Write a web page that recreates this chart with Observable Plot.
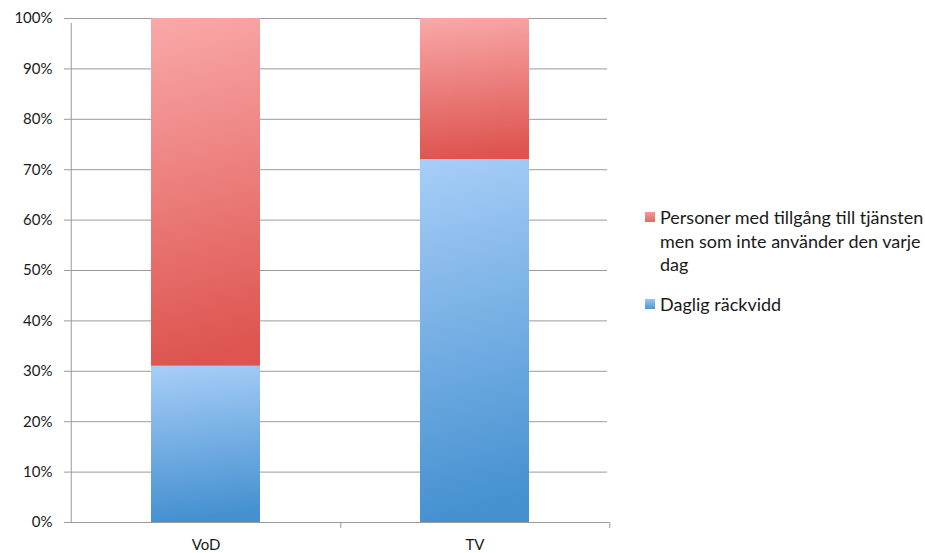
<!DOCTYPE html>
<html><head><meta charset="utf-8">
<script src="https://cdn.jsdelivr.net/npm/d3@7"></script>
<script src="https://cdn.jsdelivr.net/npm/@observablehq/plot@0.6"></script>
<style>
body{margin:0;background:#fff;font-family:Lato,"Open Sans",sans-serif;}
#wrap{position:relative;width:925px;height:553px;overflow:hidden;}
#legend{position:absolute;left:645px;top:206px;font-size:18px;color:#1a1a1a;line-height:23.5px;}
.item{position:relative;padding-left:15px;width:290px;white-space:nowrap;}
.sw{position:absolute;left:0;top:6px;width:10px;height:10px;}
</style></head>
<body><div id="wrap"><div id="chart"></div>
<div id="legend"></div></div>
<script>
const categories = ["VoD", "TV"];
const seriesNames = ["Daglig räckvidd", "Personer med tillgång till tjänsten men som inte använder den varje dag"];
const dailyReach = [0.31, 0.72];
const accessNotDaily = [0.69, 0.28];
const yTicks = [0, 0.1, 0.2, 0.3, 0.4, 0.5, 0.6, 0.7, 0.8, 0.9, 1.0];
const legendLines = ["Personer med tillgång till tjänsten", "men som inte använder den varje", "dag"];

const rows = [];
categories.forEach((c, i) => {
  rows.push({cat: c, series: seriesNames[0], value: dailyReach[i], fill: "url(#gBlue)"});
  rows.push({cat: c, series: seriesNames[1], value: accessNotDaily[i], fill: "url(#gRed)"});
});

const marginLeft = 70, marginRight = 316, width = 925;
const step = (width - marginLeft - marginRight) / categories.length;

const defs = () => {
  const d = d3.create("svg:defs");
  const mk = (id, top, bottom) => {
    const g = d.append("linearGradient").attr("id", id).attr("x1", 0).attr("y1", 0).attr("x2", 0.08).attr("y2", 1);
    g.append("stop").attr("offset", "0%").attr("stop-color", top);
    g.append("stop").attr("offset", "100%").attr("stop-color", bottom);
  };
  mk("gBlue", "#a8cef8", "#4591d0");
  mk("gRed", "#f9a9a9", "#de5550");
  return d.node();
};

const chart = Plot.plot({
  width, height: 553,
  marginLeft, marginRight, marginTop: 18, marginBottom: 31,
  style: {fontFamily: "Lato, 'Open Sans', sans-serif", fontSize: "15px", color: "#1a1a1a", background: "#fff"},
  x: {domain: categories, paddingInner: 0.595, paddingOuter: 0.2975, label: null},
  y: {domain: [0, 1], label: null},
  color: {type: "identity"},
  marks: [
    defs,
    Plot.ruleY(yTicks, {stroke: "#9a9a9a", strokeWidth: 1, insetLeft: -6, insetRight: 2}),
    Plot.barY(rows, {x: "cat", y: "value", fill: "fill", order: (d) => seriesNames.indexOf(d.series)}),
    Plot.ruleX([0], {x: () => categories[0], dx: -step / 2, y1: 0, y2: 1, stroke: "#9a9a9a", insetBottom: -5}),
    Plot.ruleX(categories, {x: (d) => d, dx: step / 2, y1: 0, y2: 0, stroke: "#9a9a9a", insetBottom: -6}),
    Plot.ruleY([0], {stroke: "#9a9a9a", insetLeft: -6}),
    Plot.axisY({ticks: yTicks, tickSize: 0, tickPadding: 18, tickFormat: d3.format(".0%"), fontSize: 15}),
    Plot.axisX({tickSize: 0, tickPadding: 17, fontSize: 15})
  ]
});
document.getElementById("chart").append(chart);

const legend = document.getElementById("legend");
const it1 = document.createElement("div");
it1.className = "item";
it1.innerHTML = '<span class="sw" style="background:linear-gradient(#f39a9a,#e06a66)"></span>' + legendLines.join("<br>");
const it2 = document.createElement("div");
it2.className = "item";
it2.style.marginTop = "16.5px";
it2.innerHTML = '<span class="sw" style="background:linear-gradient(#9cc6f2,#4d95d3)"></span>' + seriesNames[0];
legend.append(it1, it2);
</script></body></html>
